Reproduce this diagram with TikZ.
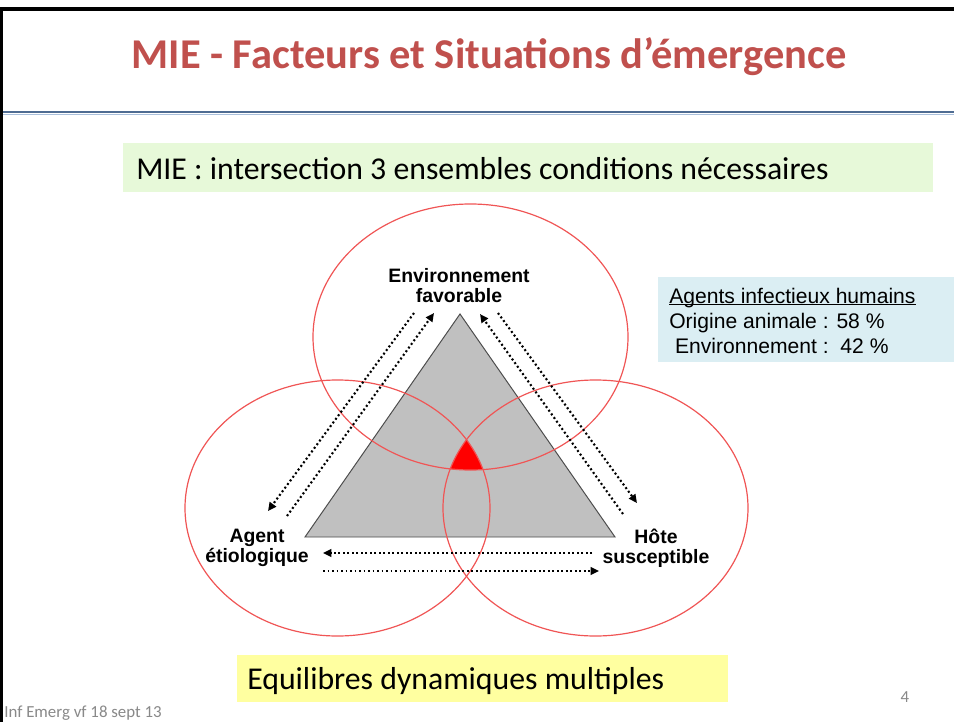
\documentclass[tikz,border=0pt]{standalone}
\usepackage{fontspec}
\setmainfont{Carlito}
\newfontfamily\arialfont{Liberation Sans}
\usetikzlibrary{arrows.meta}

\newcommand{\ulline}[1]{\setbox0\hbox{#1}\rlap{\rule[-1.6pt]{\wd0}{0.7pt}}\box0}

\definecolor{titlered}{RGB}{192,80,77}
\definecolor{ringred}{RGB}{240,85,85}
\definecolor{rulblue}{RGB}{79,108,146}
\definecolor{rullight}{RGB}{170,192,220}
\definecolor{boxgreen}{RGB}{231,249,217}
\definecolor{boxblue}{RGB}{219,238,243}
\definecolor{boxyellow}{RGB}{255,255,160}
\definecolor{trigray}{RGB}{192,192,192}
\definecolor{footgray}{RGB}{137,137,137}

\begin{document}
\begin{tikzpicture}[x=0.025cm, y=-0.025cm,
  ring/.style={draw=ringred, line width=0.85pt},
  dots/.style={line width=1.5pt, dash pattern=on 1.4pt off 1.8pt, -{Triangle[length=6pt,width=5.5pt]}},
  lbl/.style={font={\arialfont\bfseries\fontsize{13.8}{14.2}\selectfont}, align=center, anchor=north, inner sep=0pt}]
\useasboundingbox (0,0) rectangle (954,722);
\fill[white] (0,0) rectangle (954,722);

% slide frame and title
\draw[line width=2.2pt] (0,9) -- (954,9);
\draw[line width=2.2pt] (1.5,9) -- (1.5,722);
\node[anchor=base, inner sep=0pt, text=titlered, font=\bfseries\fontsize{30.2}{36}\selectfont] (title) at (489,69) {MIE - Facteurs et Situations d’émergence};
\draw[rulblue, line width=0.9pt] (3,112) -- (954,112);
\draw[rullight, line width=0.7pt] (3,114.5) -- (954,114.5);

\fill[boxgreen] (123,143) rectangle (933,192);
\node[anchor=base west, inner sep=0pt, font=\fontsize{22.6}{27}\selectfont] (mie) at (136,180) {MIE : intersection 3 ensembles conditions nécessaires};

\coordinate (E) at (470.5,337);
\coordinate (A) at (337.5,508);
\coordinate (H) at (595.5,508);

\coordinate (T1) at (460,314);
\coordinate (T2) at (305,537);
\coordinate (T3) at (615,537);

\draw[fill=trigray, draw=black!70, line width=0.7pt] (T1) -- (T2) -- (T3) -- cycle;

\begin{scope}
\clip (E) ellipse [x radius=157.5, y radius=133];
\clip (A) ellipse [x radius=152.5, y radius=128];
\fill[red] (H) ellipse [x radius=152.5, y radius=128];
\end{scope}

\draw[ring] (E) ellipse [x radius=157.5, y radius=133];
\draw[ring] (A) ellipse [x radius=152.5, y radius=128];
\draw[ring] (H) ellipse [x radius=152.5, y radius=128];

\node[lbl] (env) at (459,268) {Environnement\\favorable};
\node[lbl] (agent) at (257,529) {Agent\\étiologique};
\node[lbl] (hote) at (656,529) {Hôte\\susceptible};

\coordinate (L1s) at (414,313);
\coordinate (L1e) at (268,511);
\coordinate (L2s) at (287,516);
\coordinate (L2e) at (434,313);
\coordinate (R1s) at (623,514);
\coordinate (R1e) at (480,314);
\coordinate (R2s) at (498,313);
\coordinate (R2e) at (637,503);
\coordinate (B1s) at (592,553);
\coordinate (B1e) at (323,553);
\coordinate (B2s) at (323,571);
\coordinate (B2e) at (599,571);

\draw[dots] (L1s) -- (L1e);
\draw[dots] (L2s) -- (L2e);
\draw[dots] (R1s) -- (R1e);
\draw[dots] (R2s) -- (R2e);
\draw[dots] (B1s) -- (B1e);
\draw[dots] (B2s) -- (B2e);

\fill[boxblue] (658,277) rectangle (954,362);
\node[anchor=north west, inner sep=0pt, align=left, font={\arialfont\fontsize{15}{18}\selectfont}] (stats) at (669,287.5) {\ulline{Agents infectieux humains}\\Origine animale : 58 \%\\\ Environnement :\ \ 42 \%};

\fill[boxyellow] (237,655) rectangle (728,702);
\node[anchor=base west, inner sep=0pt, font=\fontsize{22.6}{27}\selectfont] (equi) at (247,689) {Equilibres dynamiques multiples};

\node[anchor=base west, inner sep=0pt, text=footgray, font=\fontsize{12}{14}\selectfont] (foot) at (4,717) {Inf Emerg vf 18 sept 13};
\node[anchor=base, inner sep=0pt, text=footgray, font=\fontsize{12}{14}\selectfont] (page) at (905,702) {4};
\end{tikzpicture}
\end{document}
